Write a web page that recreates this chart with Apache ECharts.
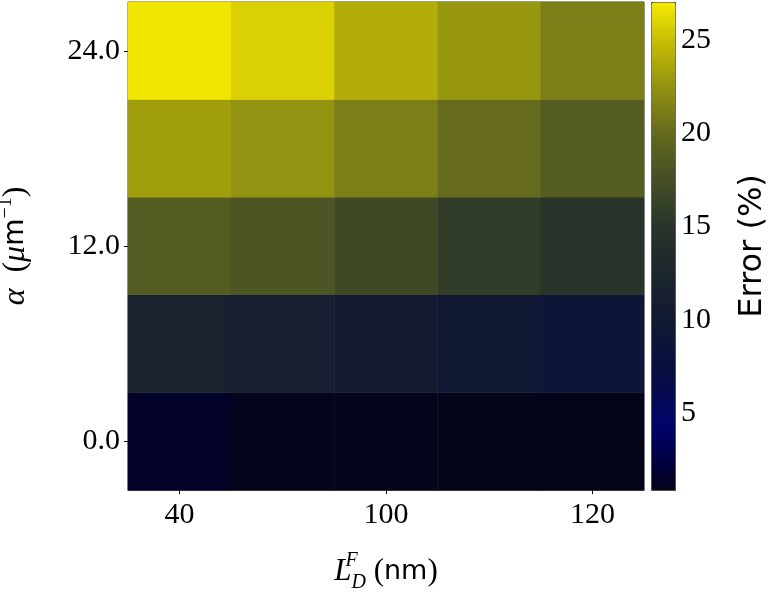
<!DOCTYPE html>
<html>
<head>
<meta charset="utf-8">
<script src="https://cdn.jsdelivr.net/npm/echarts@6/dist/echarts.min.js"></script>
<style>html,body{margin:0;padding:0;background:#fff}#c{width:776px;height:594px}</style>
</head>
<body>
<div id="c"></div>
<script>
// Categories (x: L_D^F in nm, y: alpha in um^-1); hidden category labels are guesses
const xCats = ['40', '70', '100', '110', '120'];
const yCats = ['0.0', '6.0', '12.0', '18.0', '24.0'];
// Error (%) values, one array per alpha row (bottom to top), left to right in x
const row0 = [1.5, 1.0, 0.95, 0.9, 0.9];
const row6 = [11.8, 11.1, 10.3, 9.8, 9.0];
const row12 = [18.8, 18.1, 17.0, 15.8, 15.0];
const row18 = [23.2, 22.5, 21.3, 20.1, 18.8];
const row24 = [26.8, 25.8, 24.0, 22.7, 21.3];
const rows = [row0, row6, row12, row18, row24];
const cMin = 0.86, cMax = 27.04;
const cbTicks = [5, 10, 15, 20, 25];

// colormap stops [value, r, g, b]
const cmap = [
  [0.86, 5, 5, 25], [1.9, 0, 0, 50], [3.5, 0, 0, 90], [4.6, 0, 5, 105], [6.0, 5, 10, 80],
  [7.8, 10, 15, 60], [9.2, 15, 22, 55], [10.0, 18, 25, 50], [12.5, 28, 38, 45],
  [15.0, 40, 52, 42], [17.2, 65, 75, 38], [20.0, 100, 105, 30], [22.7, 150, 150, 15],
  [25.0, 200, 190, 5], [27.04, 245, 235, 0]
];
function cAt(v) {
  for (let i = 0; i < cmap.length - 1; i++) {
    const a = cmap[i], b = cmap[i + 1];
    if (v <= b[0]) {
      const t = Math.max(0, (v - a[0]) / (b[0] - a[0]));
      const r = Math.round(a[1] + t * (b[1] - a[1]));
      const g = Math.round(a[2] + t * (b[2] - a[2]));
      const bl = Math.round(a[3] + t * (b[3] - a[3]));
      return 'rgb(' + r + ',' + g + ',' + bl + ')';
    }
  }
  const l = cmap[cmap.length - 1];
  return 'rgb(' + l[1] + ',' + l[2] + ',' + l[3] + ')';
}
const N = 80;
const colors = [];
for (let i = 0; i < N; i++) colors.push(cAt(cMin + (cMax - cMin) * i / (N - 1)));

const data = [];
rows.forEach((r, yi) => r.forEach((v, xi) => data.push([xi, yi, v])));

const serif = 'Liberation Serif';
const sans = 'DejaVu Sans';
const chart = echarts.init(document.getElementById('c'), null, {renderer: 'canvas'});
chart.setOption({
  animation: false,
  grid: [
    {left: 128, right: 132, top: 2, bottom: 104, show: true, borderColor: '#444', borderWidth: 1,
     backgroundColor: 'transparent', containLabel: false, outerBoundsMode: 'none'},
    {left: 651, width: 24, top: 2, bottom: 104, show: false, containLabel: false, outerBoundsMode: 'none'}
  ],
  xAxis: [
    {
      type: 'category', data: xCats, gridIndex: 0,
      axisLine: {show: true, lineStyle: {color: '#444'}},
      axisTick: {show: true, alignWithLabel: true, interval: 1, length: 4, lineStyle: {color: '#000'}},
      axisLabel: {interval: 1, fontFamily: serif, fontSize: 30, color: '#000', margin: 10},
      splitLine: {show: false},
      name: '{L|L}{F|F}{D|D}{p| (}{s|nm}{p|)}',
      nameLocation: 'middle', nameGap: 61,
      nameTextStyle: {
        rich: {
          L: {fontFamily: serif, fontStyle: 'italic', fontSize: 31, color: '#000', verticalAlign: 'middle'},
          F: {fontFamily: serif, fontStyle: 'italic', fontSize: 20, color: '#000', verticalAlign: 'top', width: 0},
          D: {fontFamily: serif, fontStyle: 'italic', fontSize: 20, color: '#000', verticalAlign: 'bottom'},
          p: {fontFamily: serif, fontSize: 31, color: '#000'},
          s: {fontFamily: sans, fontSize: 27, color: '#000'}
        },
        lineHeight: 42
      }
    },
    {type: 'value', gridIndex: 1, show: false, min: 0, max: 1}
  ],
  yAxis: [
    {
      type: 'category', data: yCats, gridIndex: 0,
      axisLine: {show: true, lineStyle: {color: '#444'}},
      axisTick: {show: true, alignWithLabel: true, interval: 1, length: 4, lineStyle: {color: '#000'}},
      axisLabel: {interval: 1, fontFamily: serif, fontSize: 30, color: '#000', margin: 8},
      splitLine: {show: false},
      name: '{a|α}{p|  (}{m|μ}{s|m}{e|−1}{p|)}',
      nameLocation: 'middle', nameGap: 92, nameRotate: 90,
      nameTextStyle: {
        rich: {
          a: {fontFamily: serif, fontStyle: 'italic', fontSize: 32, color: '#000'},
          p: {fontFamily: serif, fontSize: 32, color: '#000'},
          m: {fontFamily: serif, fontStyle: 'italic', fontSize: 32, color: '#000'},
          s: {fontFamily: sans, fontSize: 28, color: '#000'},
          e: {fontFamily: serif, fontSize: 20, color: '#000', verticalAlign: 'top'}
        },
        lineHeight: 40
      }
    },
    {
      type: 'value', gridIndex: 1, position: 'right', min: cMin, max: cMax,
      axisLine: {show: false},
      splitLine: {show: false},
      axisTick: {show: true, length: 4, lineStyle: {color: '#000'}, customValues: cbTicks},
      axisLabel: {fontFamily: serif, fontSize: 30, color: '#000', margin: 6, customValues: cbTicks},
      name: 'Error (%)', nameLocation: 'middle', nameRotate: 90, nameGap: 62,
      nameTextStyle: {fontFamily: sans, fontSize: 32, color: '#000'}
    }
  ],
  visualMap: {
    type: 'continuous', min: cMin, max: cMax, calculable: false, orient: 'vertical',
    left: 651, top: 2, itemWidth: 24, itemHeight: 488, padding: 0,
    borderColor: '#444', borderWidth: 1, text: null, showLabel: false,
    seriesIndex: 0, hoverLink: false,
    inRange: {color: colors}
  },
  series: [
    {
      type: 'heatmap', xAxisIndex: 0, yAxisIndex: 0, data: data,
      itemStyle: {borderWidth: 0},
      emphasis: {disabled: true}
    }
  ]
});
</script>
</body>
</html>
